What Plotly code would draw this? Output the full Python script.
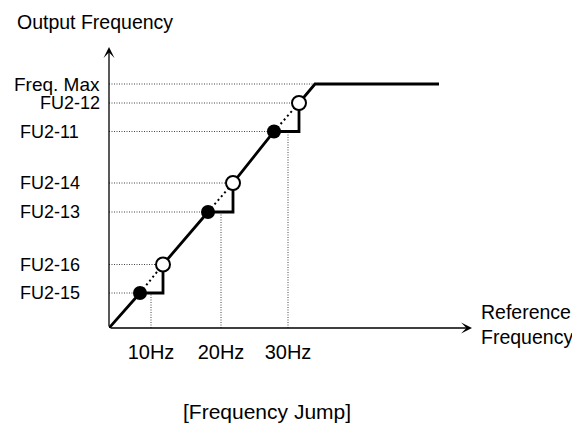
import plotly.graph_objects as go

# schematic units (1 unit = 1 px), origin at the corner of the two axes
axis_x_end = 363
axis_y_end = 281

tick_x = [42, 112, 179]
tick_text = ["10Hz", "20Hz", "30Hz"]

# lower end of each jump band (filled dots)
jump_lo_x = [31, 99, 165]
jump_lo_y = [35, 116, 196.5]
jump_lo_labels = ["FU2-15", "FU2-13", "FU2-11"]

# upper end of each jump band (open dots)
jump_hi_x = [54, 124, 190]
jump_hi_y = [63.5, 145, 225]
jump_hi_labels = ["FU2-16", "FU2-14", "FU2-12"]

max_x = 206
max_y = 244
max_label = "Freq. Max"
end_x = 330

FONT = "Liberation Sans, Arial, sans-serif"
GUIDE = dict(color="#444", width=1, dash="1px,1.5px")


def px(u):
    # schematic x unit -> paper fraction (for text outside the plot area)
    return u / axis_x_end


def py(u):
    return u / axis_y_end


fig = go.Figure()

# --- dotted guide lines to the axes ---
gx, gy = [], []
for x, y in zip(jump_lo_x + jump_hi_x + [max_x], jump_lo_y + jump_hi_y + [max_y]):
    gx += [0, x, None]
    gy += [y, y, None]
for x, y in zip(tick_x, jump_lo_y):
    gx += [x, x, None]
    gy += [0, y, None]
fig.add_trace(go.Scatter(x=gx, y=gy, mode="lines", line=GUIDE, hoverinfo="skip"))

# --- dotted continuation inside each jump band ---
dx, dy = [], []
for x0, y0, x1, y1 in zip(jump_lo_x, jump_lo_y, jump_hi_x, jump_hi_y):
    dx += [x0, x1, None]
    dy += [y0, y1, None]
fig.add_trace(go.Scatter(x=dx, y=dy, mode="lines",
                         line=dict(color="black", width=2, dash="2px,3px"), hoverinfo="skip"))

# --- output frequency curve ---
cx, cy = [0], [0]
for x0, y0, x1, y1 in zip(jump_lo_x, jump_lo_y, jump_hi_x, jump_hi_y):
    cx += [x0, x1, x1]
    cy += [y0, y0, y1]
cx += [max_x, end_x]
cy += [max_y, max_y]
fig.add_trace(go.Scatter(x=cx, y=cy, mode="lines",
                         line=dict(color="black", width=2.8), hoverinfo="skip"))

fig.add_trace(go.Scatter(x=jump_lo_x, y=jump_lo_y, mode="markers",
                         marker=dict(size=14, color="black"), hoverinfo="skip"))
fig.add_trace(go.Scatter(x=jump_hi_x, y=jump_hi_y, mode="markers",
                         marker=dict(size=14, color="white", line=dict(color="black", width=2)),
                         hoverinfo="skip"))

# --- axes as arrows ---
for tx, ty in [(axis_x_end, 0), (0, axis_y_end)]:
    fig.add_annotation(x=tx, y=ty, ax=0, ay=0, xref="x", yref="y", axref="x", ayref="y",
                       text="", showarrow=True, arrowhead=3, arrowsize=1.4,
                       arrowwidth=1.3, arrowcolor="black", standoff=0)

# --- y labels ---
right_aligned = {max_label, jump_hi_labels[-1]}
for lab, y in zip(jump_lo_labels + jump_hi_labels + [max_label], jump_lo_y + jump_hi_y + [max_y]):
    if lab in right_aligned:
        fig.add_annotation(x=px(-7), y=py(y), xref="paper", yref="paper", text=lab,
                           showarrow=False, xanchor="right", yanchor="middle",
                           font=dict(family=FONT, size=19 if lab == max_label else 18, color="black"))
    else:
        fig.add_annotation(x=px(-91), y=py(y), xref="paper", yref="paper", text=lab,
                           showarrow=False, xanchor="left", yanchor="middle",
                           font=dict(family=FONT, size=18, color="black"))

fig.add_annotation(x=px(-94), y=py(306), xref="paper", yref="paper", text="Output Frequency",
                   showarrow=False, xanchor="left", yanchor="middle",
                   font=dict(family=FONT, size=19.5, color="black"))
fig.add_annotation(x=px(370), y=py(4), xref="paper", yref="paper", text="Reference<br>Frequency",
                   showarrow=False, xanchor="left", yanchor="middle", align="left",
                   font=dict(family=FONT, size=19.5, color="black"))
fig.add_annotation(x=px(158), y=py(-83), xref="paper", yref="paper", text="[Frequency Jump]",
                   showarrow=False, xanchor="center", yanchor="middle",
                   font=dict(family=FONT, size=21, color="black"))

# page body keeps an 8px margin, so the figure sits 8px in from the window corner
fig.update_layout(
    width=580,
    height=426,
    autosize=False,
    margin=dict(l=101, r=116, t=39, b=106),
    showlegend=False,
    paper_bgcolor="white",
    plot_bgcolor="white",
    xaxis=dict(range=[0, axis_x_end], showgrid=False, zeroline=False, showline=False,
               tickvals=tick_x, ticktext=tick_text, ticks="", ticklabelstandoff=10,
               tickfont=dict(family=FONT, size=20, color="black"), automargin=False,
               fixedrange=True),
    yaxis=dict(range=[0, axis_y_end], showgrid=False, zeroline=False, showline=False,
               showticklabels=False, automargin=False, fixedrange=True),
)

fig.write_html("out.html", config={"displayModeBar": False})
